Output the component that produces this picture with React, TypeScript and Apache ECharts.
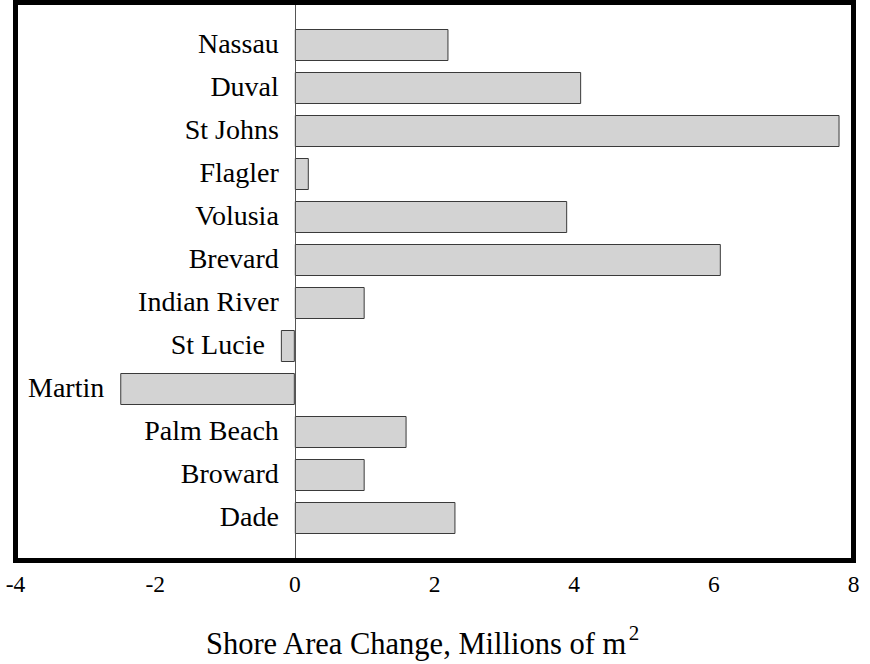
import React, { useEffect, useRef } from "react";
import * as echarts from "echarts";

const categories = [
  "Nassau", "Duval", "St Johns", "Flagler", "Volusia", "Brevard",
  "Indian River", "St Lucie", "Martin", "Palm Beach", "Broward", "Dade",
];
const shoreChange = [2.2, 4.1, 7.8, 0.2, 3.9, 6.1, 1.0, -0.2, -2.5, 1.6, 1.0, 2.3];
const xTicks = { min: -4, max: 8, interval: 2 };
const axisTitle = "Shore Area Change, Millions of m";

const FONT = "'Liberation Serif', 'Times New Roman', serif";

export default function App() {
  const ref = useRef<HTMLDivElement>(null);
  useEffect(() => {
    const chart = echarts.init(ref.current!, null, { renderer: "svg" });
    chart.setOption({
      animation: false,
      backgroundColor: "#ffffff",
      title: {
        text: `{a|${axisTitle}}{sup|2}`,
        left: 201,
        top: 616,
        textStyle: {
          fontWeight: "normal",
          rich: {
            a: { fontFamily: FONT, fontSize: 30.5, fontWeight: "normal", color: "#000", lineHeight: 38, verticalAlign: "bottom" },
            sup: { fontFamily: FONT, fontSize: 21, fontWeight: "normal", color: "#000", lineHeight: 38, verticalAlign: "bottom", padding: [0, 0, 16, 1] },
          },
        },
      },
      grid: [
        { left: 15.5, right: 16.5, top: 2.5, bottom: 103.5, show: true, borderColor: "#000", borderWidth: 5, backgroundColor: "transparent", z: 10 },
        { left: 15.5, right: 16.5, top: 23.5, bottom: 124.5 },
      ],
      xAxis: [
        {
          gridIndex: 0, type: "value", min: xTicks.min, max: xTicks.max, interval: xTicks.interval,
          axisLine: { show: false }, axisTick: { show: false }, splitLine: { show: false },
          axisLabel: { fontFamily: FONT, fontSize: 23.5, color: "#000", margin: 11 },
        },
        {
          gridIndex: 1, type: "value", min: xTicks.min, max: xTicks.max, interval: xTicks.interval,
          show: false, splitLine: { show: false },
        },
      ],
      yAxis: [
        { gridIndex: 0, type: "value", min: 0, max: 1, show: false, splitLine: { show: false } },
        {
          gridIndex: 1, type: "category", data: categories, inverse: true, show: false,
        },
      ],
      series: [
        {
          type: "line", xAxisIndex: 0, yAxisIndex: 0, data: [],
          markLine: {
            silent: true, symbol: "none", label: { show: false },
            lineStyle: { color: "#555", width: 1, type: "solid" },
            data: [{ xAxis: 0 }],
          },
        },
        {
          type: "bar", xAxisIndex: 1, yAxisIndex: 1, data: shoreChange, barWidth: 32,
          itemStyle: { color: "#d3d3d3", borderColor: "#3a3a3a", borderWidth: 1 },
          label: {
            show: true, position: "left", distance: 16, offset: [0, -2], formatter: "{b}",
            fontFamily: FONT, fontSize: 28, color: "#000",
          },
        },
      ],
    });
    return () => chart.dispose();
  }, []);
  return <div ref={ref} style={{ width: 870, height: 664, position: "absolute", left: 0, top: 0 }} />;
}
